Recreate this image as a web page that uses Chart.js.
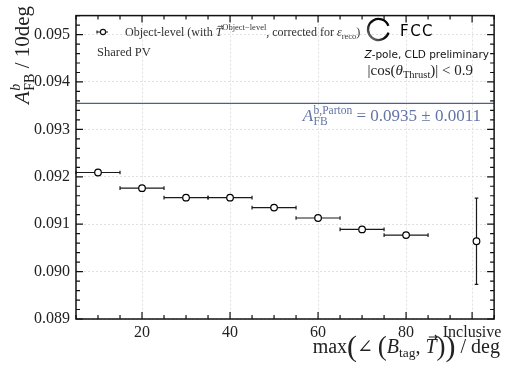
<!DOCTYPE html>
<html>
<head>
<meta charset="utf-8">
<script src="https://cdn.jsdelivr.net/npm/chart.js@4.4.0/dist/chart.umd.min.js"></script>
<style>
  html, body { margin: 0; padding: 0; background: #fff; }
  #wrap { width: 506px; height: 376px; }
</style>
</head>
<body>
<div id="wrap"><canvas id="afbChart" width="506" height="376"></canvas></div>
<script>
// bins of max angle between B_tag and thrust axis (deg); last bin is "Inclusive"
const binCenters = [10, 20, 30, 40, 50, 60, 70, 80, 96];
const binLow     = [5, 15, 25, 35, 45, 55, 65, 75, 96];
const binHigh    = [15, 25, 35, 45, 55, 65, 75, 85, 96];
const afbValues  = [0.09209, 0.09176, 0.09156, 0.09156, 0.09135, 0.09113, 0.09089, 0.09077, 0.09064];
const afbErrors  = [0, 0, 0, 0, 0, 0, 0, 0, 0.00091];
const partonValue = 0.09355;
const xTickValues = [20, 40, 60, 80, 95];
const xTickLabels = ['20', '40', '60', '80', 'Inclusive'];
const yTickValues = [0.089, 0.090, 0.091, 0.092, 0.093, 0.094, 0.095];

const SERIF = '"Liberation Serif", "DejaVu Serif", serif';
const SANS = '"DejaVu Sans", "Noto Sans", sans-serif';

// draw a run of text pieces: {t, size, italic, dy, family, vec, gap, hold}
// a part with hold:true does not advance; the next part advances by the wider of the two
function drawRich(ctx, x, y, parts, align) {
  const fontOf = p => `${p.italic ? 'italic ' : ''}${p.weight || ''} ${p.size}px ${p.family || SERIF}`;
  const raw = parts.map(p => { ctx.font = fontOf(p); return ctx.measureText(p.t).width; });
  const adv = parts.map((p, i) => {
    if (p.hold) return 0;
    const prev = i > 0 && parts[i - 1].hold ? raw[i - 1] : 0;
    return Math.max(raw[i], prev) + (p.gap || 0);
  });
  const total = adv.reduce((a, b) => a + b, 0);
  let cx = align === 'right' ? x - total : x;
  ctx.textAlign = 'left';
  ctx.textBaseline = 'alphabetic';
  parts.forEach((p, i) => {
    ctx.font = fontOf(p);
    ctx.fillText(p.t, cx, y + (p.dy || 0));
    if (p.vec) {
      const w = raw[i];
      const top = y + (p.dy || 0) - p.size * 0.8;
      ctx.save();
      ctx.lineWidth = Math.max(0.8, p.size / 18);
      ctx.strokeStyle = ctx.fillStyle;
      ctx.beginPath();
      ctx.moveTo(cx + w * 0.3, top);
      ctx.lineTo(cx + w * 1.05, top);
      ctx.moveTo(cx + w * 0.85, top - p.size * 0.1);
      ctx.lineTo(cx + w * 1.05, top);
      ctx.lineTo(cx + w * 0.85, top + p.size * 0.1);
      ctx.stroke();
      ctx.restore();
    }
    cx += adv[i];
  });
  return total;
}

const errorBars = {
  id: 'errorBars',
  beforeDatasetsDraw(chart) {
    const { ctx, scales: { x, y } } = chart;
    ctx.save();
    ctx.strokeStyle = '#1a1a1a';
    ctx.lineWidth = 1.2;
    binCenters.forEach((c, i) => {
      const py = y.getPixelForValue(afbValues[i]);
      const px = x.getPixelForValue(c);
      if (binHigh[i] > binLow[i]) {
        const x0 = x.getPixelForValue(binLow[i]);
        const x1 = x.getPixelForValue(binHigh[i]);
        ctx.beginPath();
        ctx.moveTo(x0, py); ctx.lineTo(x1, py);
        ctx.moveTo(x0, py - 1.8); ctx.lineTo(x0, py + 1.8);
        ctx.moveTo(x1, py - 1.8); ctx.lineTo(x1, py + 1.8);
        ctx.stroke();
      }
      if (afbErrors[i] > 0) {
        const y0 = y.getPixelForValue(afbValues[i] - afbErrors[i]);
        const y1 = y.getPixelForValue(afbValues[i] + afbErrors[i]);
        ctx.beginPath();
        ctx.moveTo(px, y0); ctx.lineTo(px, y1);
        ctx.moveTo(px - 1.8, y0); ctx.lineTo(px + 1.8, y0);
        ctx.moveTo(px - 1.8, y1); ctx.lineTo(px + 1.8, y1);
        ctx.stroke();
      }
    });
    ctx.restore();
  }
};

const frameTicks = {
  id: 'frameTicks',
  afterDraw(chart) {
    const { ctx, chartArea: a, scales: { x, y } } = chart;
    ctx.save();
    ctx.strokeStyle = '#111';
    ctx.lineWidth = 1.2;
    ctx.beginPath();
    for (let v = 5; v <= 100; v += 5) {
      const px = x.getPixelForValue(v);
      const len = xTickValues.includes(v) ? 7 : 4;
      ctx.moveTo(px, a.bottom); ctx.lineTo(px, a.bottom - len);
      ctx.moveTo(px, a.top); ctx.lineTo(px, a.top + len);
    }
    for (let k = 0; k <= 32; k++) {
      const v = 0.089 + k * 0.0002;
      if (v > 0.0954) break;
      const py = y.getPixelForValue(v);
      const len = k % 5 === 0 ? 7 : 4;
      ctx.moveTo(a.left, py); ctx.lineTo(a.left + len, py);
      ctx.moveTo(a.right, py); ctx.lineTo(a.right - len, py);
    }
    ctx.stroke();
    ctx.lineWidth = 1.5;
    ctx.strokeRect(a.left, a.top, a.right - a.left, a.bottom - a.top);
    ctx.restore();
  }
};

const labels = {
  id: 'labels',
  afterDraw(chart) {
    const { ctx } = chart;
    ctx.save();

    // legend entry
    ctx.strokeStyle = '#111';
    ctx.lineWidth = 1.1;
    ctx.beginPath();
    ctx.moveTo(97, 32); ctx.lineTo(108, 32);
    ctx.moveTo(97, 30.5); ctx.lineTo(97, 33.5);
    ctx.stroke();
    ctx.beginPath();
    ctx.arc(103, 32, 2.6, 0, Math.PI * 2);
    ctx.fillStyle = '#fff'; ctx.fill(); ctx.stroke();
    ctx.fillStyle = '#333';
    drawRich(ctx, 125, 36, [
      { t: 'Object-level (with ', size: 12 },
      { t: 'T', size: 12, italic: true, vec: true },
      { t: 'Object\u2212level', size: 8.5, dy: -6 },
      { t: ', corrected for ', size: 12 },
      { t: '\u03b5', size: 12, italic: true },
      { t: 'reco', size: 8.5, dy: 3 },
      { t: ')', size: 12 }
    ]);
    drawRich(ctx, 97, 56, [{ t: 'Shared PV', size: 12.5 }]);

    // FCC logo
    const grad = ctx.createLinearGradient(390, 18, 367, 42);
    grad.addColorStop(0, '#000');
    grad.addColorStop(0.55, '#111');
    grad.addColorStop(1, '#9a9a9a');
    ctx.strokeStyle = grad;
    ctx.lineWidth = 2.3;
    ctx.beginPath();
    ctx.arc(378.5, 29.5, 10.5, 0.3, Math.PI * 2 - 0.35);
    ctx.stroke();
    ctx.fillStyle = '#000';
    drawRich(ctx, 400, 36, [
      { t: 'F', size: 15, family: SANS, gap: 1.5 },
      { t: 'C', size: 15, family: SANS, gap: 1.5 },
      { t: 'C', size: 15, family: SANS }
    ]);
    ctx.fillStyle = '#111';
    drawRich(ctx, 489, 58, [
      { t: 'Z', size: 10.5, italic: true, family: SANS },
      { t: '-pole, CLD preliminary', size: 10.5, family: SANS }
    ], 'right');
    ctx.fillStyle = '#222';
    drawRich(ctx, 473, 75, [
      { t: '|cos(', size: 15 },
      { t: '\u03b8', size: 15, italic: true },
      { t: 'Thrust', size: 10.5, dy: 3 },
      { t: ')| < 0.9', size: 15 }
    ], 'right');

    // parton reference label
    ctx.fillStyle = '#6474a6';
    drawRich(ctx, 481, 121, [
      { t: 'A', size: 17, italic: true, gap: 0.5 },
      { t: 'b,Parton', size: 11.5, dy: -7, hold: true },
      { t: 'FB', size: 11.5, dy: 3.5 },
      { t: ' = 0.0935 \u00b1 0.0011', size: 17 }
    ], 'right');

    // y title
    ctx.fillStyle = '#222';
    ctx.save();
    ctx.translate(29, 104);
    ctx.rotate(-Math.PI / 2);
    drawRich(ctx, 0, 0, [
      { t: 'A', size: 21, italic: true, gap: 0.5 },
      { t: 'b', size: 14, italic: true, dy: -9, hold: true },
      { t: 'FB', size: 14, dy: 4.5 },
      { t: ' / 10deg', size: 21 }
    ]);
    ctx.restore();

    // x title
    drawRich(ctx, 500, 353, [
      { t: 'max', size: 20 },
      { t: '(', size: 30, dy: 3 },
      { t: '\u2220 ', size: 19 },
      { t: '(', size: 27, dy: 2 },
      { t: 'B', size: 20, italic: true },
      { t: 'tag', size: 13.5, dy: 3.5 },
      { t: ', ', size: 20 },
      { t: 'T', size: 20, italic: true, vec: true },
      { t: ')', size: 27, dy: 2 },
      { t: ')', size: 30, dy: 3 },
      { t: ' / deg', size: 20 }
    ], 'right');
    ctx.restore();
  }
};

const gridOpts = { color: '#d9d9d9', lineWidth: 0.8, drawTicks: false };
const tickFont = { family: SERIF, size: 16 };

new Chart(document.getElementById('afbChart'), {
  type: 'scatter',
  data: {
    datasets: [
      {
        type: 'line',
        data: [{ x: 5, y: partonValue }, { x: 100, y: partonValue }],
        borderColor: '#4e5f8f',
        borderWidth: 1.3,
        pointRadius: 0
      },
      {
        data: binCenters.map((c, i) => ({ x: c, y: afbValues[i] })),
        pointRadius: 3.3,
        pointBackgroundColor: '#fff',
        pointBorderColor: '#000',
        pointBorderWidth: 1.2
      }
    ]
  },
  options: {
    responsive: false,
    animation: false,
    devicePixelRatio: 1,
    layout: { padding: { top: 8, right: 11, left: 0, bottom: 0 } },
    plugins: { legend: { display: false }, tooltip: { enabled: false } },
    scales: {
      x: {
        type: 'linear', min: 5, max: 100,
        afterBuildTicks: s => { s.ticks = xTickValues.map(v => ({ value: v })); },
        afterFit: s => { s.height = 57; },
        ticks: { callback: (v, i) => xTickLabels[i], font: tickFont, color: '#222', padding: 4, maxRotation: 0, autoSkip: false },
        grid: gridOpts,
        border: { display: false, dash: [2, 2] }
      },
      y: {
        type: 'linear', min: 0.089, max: 0.0954,
        afterBuildTicks: s => { s.ticks = yTickValues.map(v => ({ value: v })); },
        afterFit: s => { s.width = 76; },
        ticks: { callback: (v, i) => yTickValues[i].toFixed(3), font: tickFont, color: '#222', padding: 6 },
        grid: gridOpts,
        border: { display: false, dash: [2, 2] }
      }
    }
  },
  plugins: [errorBars, frameTicks, labels]
});
</script>
</body>
</html>
